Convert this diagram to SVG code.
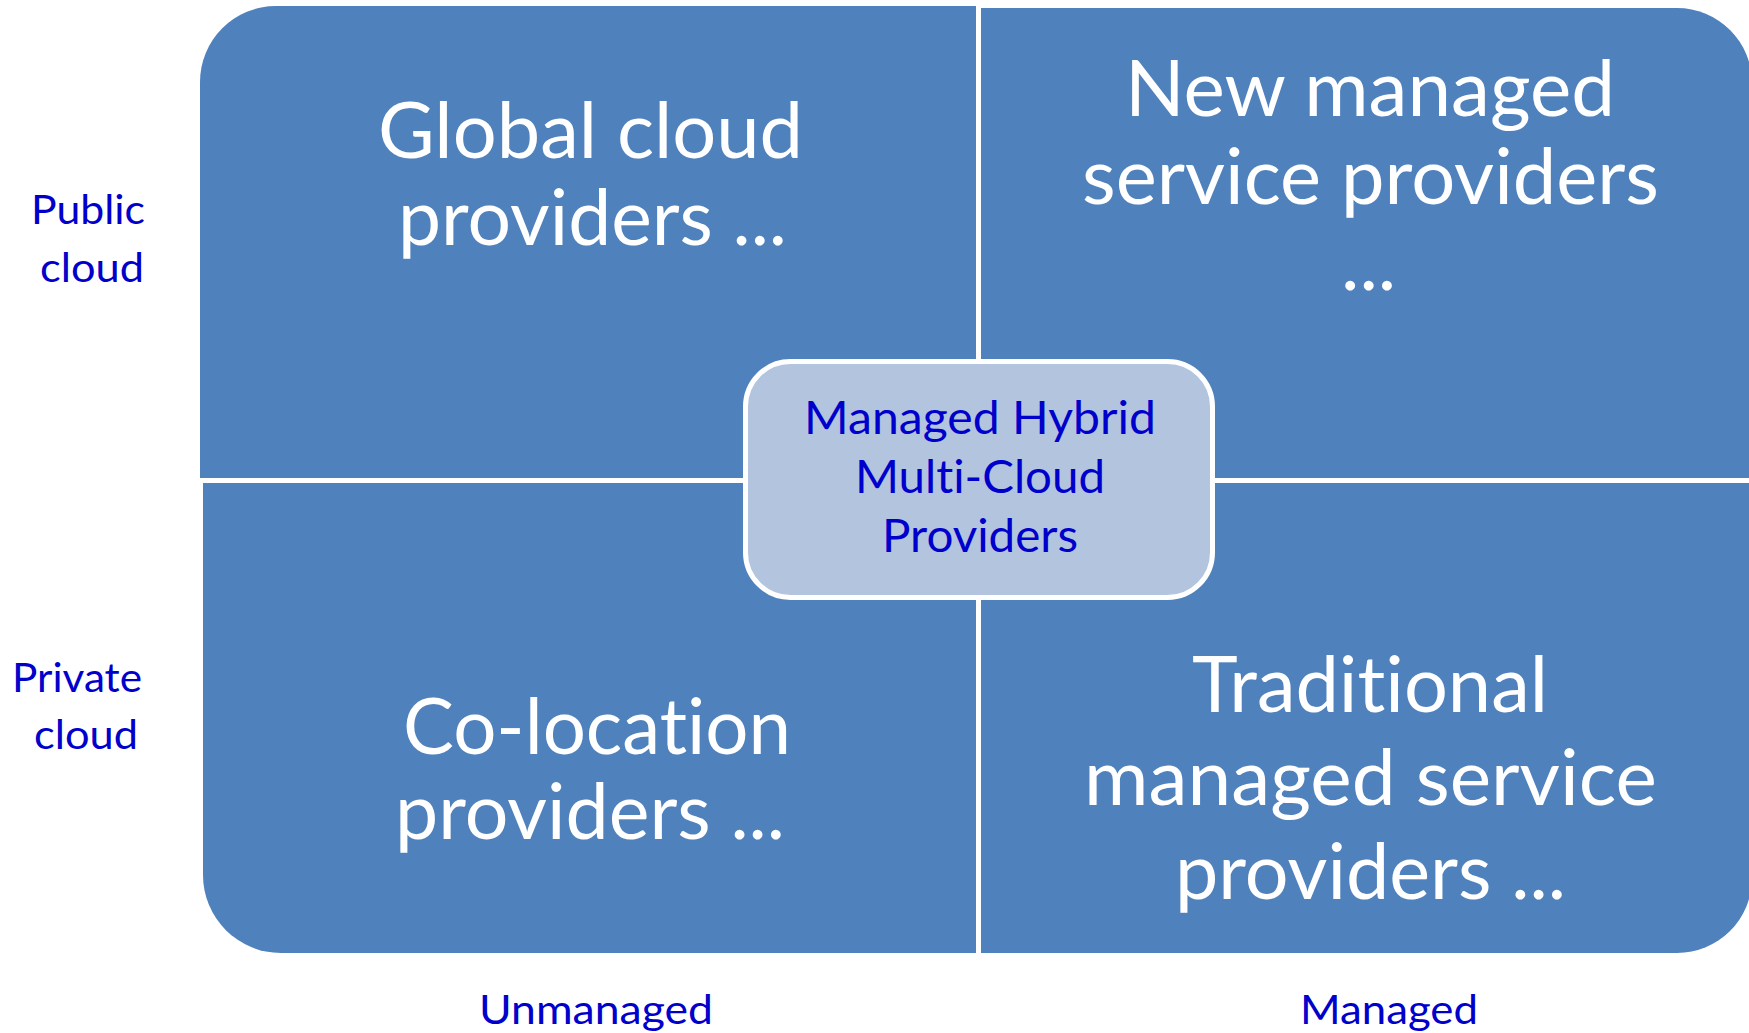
<svg xmlns="http://www.w3.org/2000/svg" width="1749" height="1033" viewBox="0 0 1749 1033">
<style>
text{font-variant-ligatures:none;font-feature-settings:"liga" 0,"clig" 0,"dlig" 0}
.quad{fill:#4F81BD}
.big{font-family:Lato,"Open Sans","Liberation Sans",sans-serif;font-size:78px;fill:#FFFFFF}
.mid{font-family:Lato,"Open Sans","Liberation Sans",sans-serif;font-size:46px;fill:#0000CC}
.lab{font-family:Lato,"Open Sans","Liberation Sans",sans-serif;font-size:41px;fill:#0000CC}
.center{fill:#B3C4DF;stroke:#FFFFFF;stroke-width:5}
</style>
<rect width="1749" height="1033" fill="#FFFFFF"/>
<g id="quadrant-global">
<path class="quad" d="M200,82 A76,76 0 0 1 276,6 L976,6 L976,478 L200,478 Z"/>
<text class="big" x="378" y="158" textLength="425" lengthAdjust="spacingAndGlyphs">Global cloud</text>
<text class="big" x="398" y="245" textLength="389" lengthAdjust="spacingAndGlyphs">providers ...</text>
</g>
<g id="quadrant-new-msp">
<path class="quad" d="M981,8 L1677,8 A75,75 0 0 1 1752,83 L1752,478 L981,478 Z"/>
<text class="big" x="1125" y="116" textLength="490" lengthAdjust="spacingAndGlyphs">New managed</text>
<text class="big" x="1082" y="204" textLength="577" lengthAdjust="spacingAndGlyphs">service providers</text>
<text class="big" x="1341" y="290">...</text>
</g>
<g id="quadrant-colocation">
<path class="quad" d="M203,483 L976,483 L976,953 L281,953 A78,78 0 0 1 203,875 Z"/>
<text class="big" x="403" y="754" textLength="388" lengthAdjust="spacingAndGlyphs">Co-location</text>
<text class="big" x="395" y="839" textLength="390" lengthAdjust="spacingAndGlyphs">providers ...</text>
</g>
<g id="quadrant-traditional-msp">
<path class="quad" d="M981,483 L1752,483 L1752,878 A75,75 0 0 1 1677,953 L981,953 Z"/>
<text class="big" x="1192" y="712" textLength="356" lengthAdjust="spacingAndGlyphs">Traditional</text>
<text class="big" x="1084" y="805" textLength="573" lengthAdjust="spacingAndGlyphs">managed service</text>
<text class="big" x="1175" y="899" textLength="391" lengthAdjust="spacingAndGlyphs">providers ...</text>
</g>
<g id="center-hybrid">
<rect class="center" x="745.5" y="361.5" width="467" height="236" rx="45" ry="45"/>
<text class="mid" x="804" y="434" textLength="352" lengthAdjust="spacingAndGlyphs">Managed Hybrid</text>
<text class="mid" x="855" y="493" textLength="250" lengthAdjust="spacingAndGlyphs">Multi-Cloud</text>
<text class="mid" x="882" y="552" textLength="196" lengthAdjust="spacingAndGlyphs">Providers</text>
</g>
<g id="label-public">
<text class="lab" x="31" y="224" textLength="114" lengthAdjust="spacingAndGlyphs">Public</text>
<text class="lab" x="40" y="282" textLength="104" lengthAdjust="spacingAndGlyphs">cloud</text>
</g>
<g id="label-private">
<text class="lab" x="12" y="692" textLength="130" lengthAdjust="spacingAndGlyphs">Private</text>
<text class="lab" x="34" y="749" textLength="104" lengthAdjust="spacingAndGlyphs">cloud</text>
</g>
<g id="label-unmanaged">
<text class="lab" x="479" y="1024" textLength="234" lengthAdjust="spacingAndGlyphs">Unmanaged</text>
</g>
<g id="label-managed">
<text class="lab" x="1300" y="1024" textLength="178" lengthAdjust="spacingAndGlyphs">Managed</text>
</g>
<g id="connectors"/>
</svg>
